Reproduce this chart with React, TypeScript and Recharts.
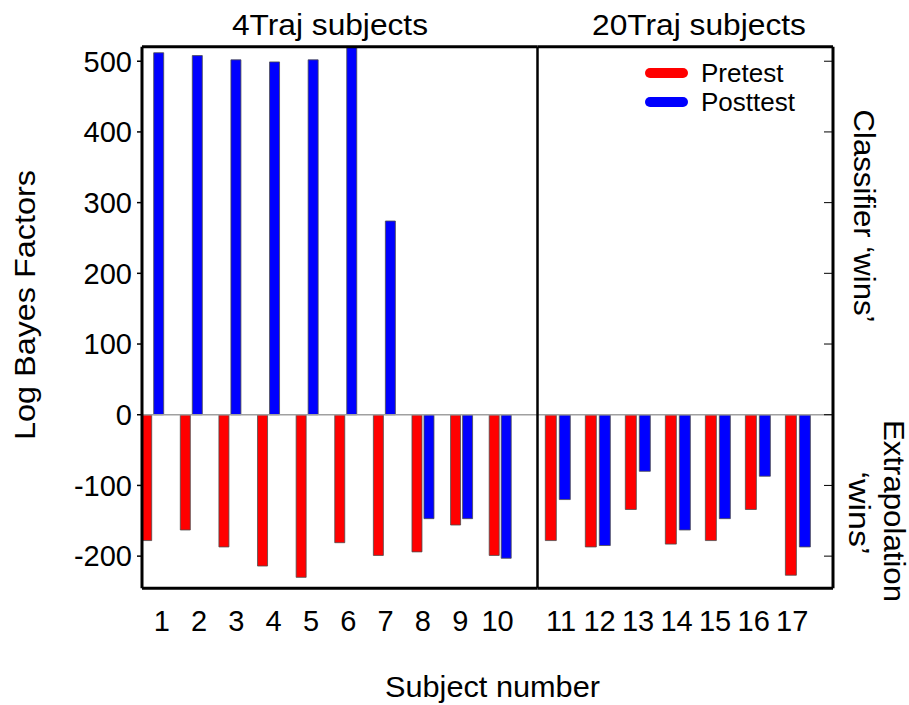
import React from 'react';
import { BarChart, Bar, XAxis, YAxis, ReferenceLine, Legend } from 'recharts';

// values (log Bayes factors per subject)
const subjects = [1, 2, 3, 4, 5, 6, 7, 8, 9, 10, 11, 12, 13, 14, 15, 16, 17];
const pretest = [-178, -163, -187, -214, -230, -181, -199, -194, -156, -199, -178, -187, -134, -183, -178, -134, -227];
const posttest = [512, 508, 502, 499, 502, 535, 274, -147, -147, -203, -120, -185, -80, -163, -147, -87, -187];
const yTicks = [500, 400, 300, 200, 100, 0, -100, -200];
const panelTitles = ['4Traj subjects', '20Traj subjects'];
const seriesNames = ['Pretest', 'Posttest'];
const splitAt = 10; // first 10 subjects belong to the 4Traj group

const rows = subjects.map((s, i) => ({ subject: s, pretest: pretest[i], posttest: posttest[i] }));
const leftRows = rows.slice(0, splitAt);
const rightRows = rows.slice(splitAt);

const yDomain: [number, number] = [-245.5, 520.4];
const font = '"Liberation Sans", Arial, Helvetica, sans-serif';
const colors = {
  pre: '#ff0000',
  post: '#0000ff',
  edge: '#4d4d4d',
  zero: '#a0a0a0',
  frame: '#000000',
};

const tickStyle = { fill: '#000', fontSize: 29, fontFamily: font };
const frameLine = { stroke: colors.frame, strokeWidth: 3 };
const noTick = () => <g />;

const renderLegend = (props: any) => {
  const items = [...(props.payload || [])].sort(
    (a: any, b: any) => seriesNames.indexOf(a.value) - seriesNames.indexOf(b.value)
  );
  return (
    <div style={{ fontFamily: font, fontSize: 26, color: '#000' }}>
      {items.map((p: any) => (
        <div key={p.value} style={{ display: 'flex', alignItems: 'center', height: 29 }}>
          <span
            style={{
              display: 'inline-block',
              width: 43,
              height: 10,
              borderRadius: 5,
              background: (p.payload && p.payload.fill) || p.color,
              marginRight: 13,
            }}
          />
          <span>{p.value}</span>
        </div>
      ))}
    </div>
  );
};

const series = (barSize: number) => [
  <Bar
    key="pre"
    xAxisId="bars"
    dataKey="pretest"
    name={seriesNames[0]}
    fill={colors.pre}
    stroke={colors.edge}
    strokeWidth={0.8}
    barSize={barSize}
    isAnimationActive={false}
  />,
  <Bar
    key="post"
    xAxisId="bars"
    dataKey="posttest"
    name={seriesNames[1]}
    fill={colors.post}
    stroke={colors.edge}
    strokeWidth={0.8}
    barSize={barSize}
    isAnimationActive={false}
  />,
];

export default function App() {
  const leftTicks = leftRows.map((r) => r.subject);
  const rightTicks = rightRows.map((r) => r.subject);

  return (
    <div style={{ position: 'absolute', left: 0, top: 0, width: 909, height: 705, background: '#fff' }}>
      {/* 4Traj panel */}
      <div style={{ position: 'absolute', left: 0, top: 0 }}>
        <BarChart
          width={540}
          height={705}
          data={leftRows}
          margin={{ top: 45.8, right: 2.5, bottom: 56.7, left: 0 }}
          barGap={2}
        >
          {/* bar positions; its line is the top edge of the frame */}
          <XAxis
            xAxisId="bars"
            orientation="top"
            dataKey="subject"
            type="number"
            domain={[0.715, 10.958]}
            ticks={leftTicks}
            height={1}
            tick={false}
            tickLine={false}
            axisLine={frameLine}
          />
          <XAxis
            xAxisId="labels"
            dataKey="subject"
            type="number"
            domain={[0.472, 11.07]}
            ticks={leftTicks}
            interval={0}
            height={60}
            axisLine={frameLine}
            tickLine={false}
            tickSize={6}
            tickMargin={16}
            tick={tickStyle}
          />
          <YAxis
            domain={yDomain}
            ticks={yTicks}
            allowDataOverflow
            interval={0}
            width={142}
            axisLine={frameLine}
            tickLine={{ stroke: colors.frame, strokeWidth: 1.5 }}
            tickSize={5}
            tickMargin={5}
            tick={tickStyle}
          />
          <ReferenceLine xAxisId="bars" y={0} stroke={colors.zero} strokeWidth={1.5} />
          {series(10)}
        </BarChart>
      </div>

      {/* 20Traj panel */}
      <div style={{ position: 'absolute', left: 530, top: 0 }}>
        <BarChart
          width={379}
          height={705}
          data={rightRows}
          margin={{ top: 45.8, right: 0, bottom: 56.7, left: 6.5 }}
          barGap={3}
        >
          <XAxis
            xAxisId="bars"
            orientation="top"
            dataKey="subject"
            type="number"
            domain={[10.505, 17.89]}
            ticks={rightTicks}
            height={1}
            tick={false}
            tickLine={false}
            axisLine={frameLine}
          />
          <XAxis
            xAxisId="labels"
            dataKey="subject"
            type="number"
            domain={[10.39, 18.06]}
            ticks={rightTicks}
            interval={0}
            height={60}
            axisLine={frameLine}
            tickLine={false}
            tickSize={6}
            tickMargin={16}
            tick={tickStyle}
          />
          {/* divider between the two groups */}
          <YAxis
            domain={yDomain}
            allowDataOverflow
            width={1}
            tick={false}
            tickLine={false}
            axisLine={{ stroke: colors.frame, strokeWidth: 2.5 }}
          />
          <YAxis
            yAxisId="r"
            orientation="right"
            domain={yDomain}
            ticks={yTicks}
            allowDataOverflow
            interval={0}
            width={76}
            tick={noTick}
            tickSize={-9}
            tickLine={{ stroke: colors.frame, strokeWidth: 1 }}
            axisLine={frameLine}
          />
          <ReferenceLine xAxisId="bars" y={0} stroke={colors.zero} strokeWidth={1.5} />
          {series(11)}
          <Legend
            layout="vertical"
            align="center"
            verticalAlign="middle"
            content={renderLegend}
            wrapperStyle={{ left: 115, top: 58.8, width: 'auto', height: 'auto' }}
          />
        </BarChart>
      </div>

      {/* titles and axis labels */}
      <svg
        width={909}
        height={705}
        style={{ position: 'absolute', left: 0, top: 0, pointerEvents: 'none' }}
        fontFamily={font}
        fill="#000"
      >
        <text x={330} y={35} fontSize={29} textAnchor="middle" textLength={196} lengthAdjust="spacingAndGlyphs">
          {panelTitles[0]}
        </text>
        <text x={699} y={35} fontSize={29} textAnchor="middle" textLength={214} lengthAdjust="spacingAndGlyphs">
          {panelTitles[1]}
        </text>
        <text
          x={492.5}
          y={697}
          fontSize={29}
          textAnchor="middle"
          textLength={215}
          lengthAdjust="spacingAndGlyphs"
        >
          Subject number
        </text>
        <text
          transform="translate(35 305) rotate(-90)"
          fontSize={30}
          textAnchor="middle"
          textLength={270}
          lengthAdjust="spacingAndGlyphs"
        >
          Log Bayes Factors
        </text>
        <text
          transform="translate(854 216) rotate(90)"
          fontSize={29}
          textAnchor="middle"
          textLength={213}
          lengthAdjust="spacingAndGlyphs"
        >
          Classifier ‘wins’
        </text>
        <text
          transform="translate(884 511) rotate(90)"
          fontSize={29}
          textAnchor="middle"
          textLength={182}
          lengthAdjust="spacingAndGlyphs"
        >
          Extrapolation
        </text>
        <text
          transform="translate(849 513) rotate(90)"
          fontSize={29}
          textAnchor="middle"
          textLength={83}
          lengthAdjust="spacingAndGlyphs"
        >
          ‘wins’
        </text>
      </svg>
    </div>
  );
}
